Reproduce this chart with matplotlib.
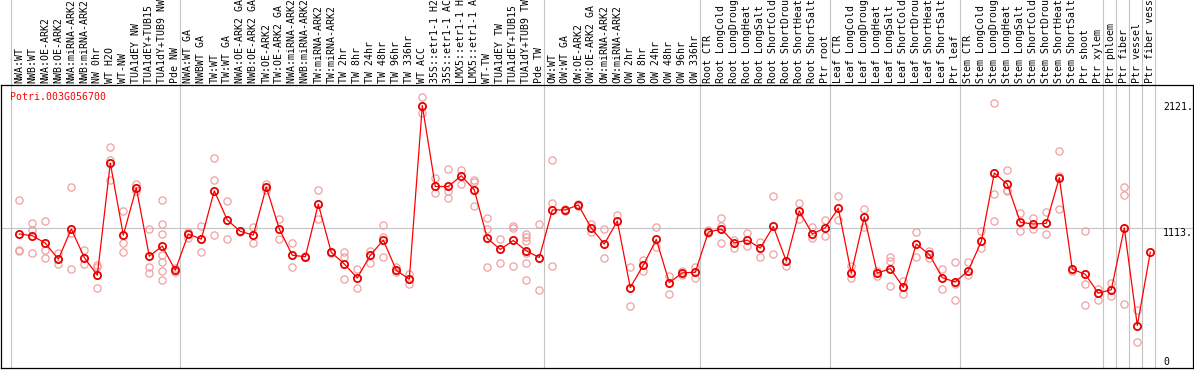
import matplotlib
matplotlib.use("Agg")
import matplotlib.pyplot as plt
import matplotlib.transforms as mtransforms

labels = ["NWA:WT", "NWB:WT", "NWA:OE-ARK2", "NWB:OE-ARK2", "NWA:miRNA-ARK2", "NWB:miRNA-ARK2",
          "NW 0hr", "WT H2O", "WT-NW", "TUA1dEY NW", "TUA1dEY+TUB15 NW", "TUA1dY+TUB9 NW", "Pde NW",
          "NWA:WT GA", "NWBWT GA", "TW:WT", "TW:WT GA", "NWA:OE-ARK2 GA", "NWB:OE-ARK2 GA",
          "TW:OE-ARK2", "TW:OE-ARK2 GA", "NWA:miRNA-ARK2 GA", "NWB:miRNA-ARK2 GA", "TW:miRNA-ARK2",
          "TW:miRNA-ARK2", "TW 2hr", "TW 8hr", "TW 24hr", "TW 48hr", "TW 96hr", "TW 336hr", "WT ACC",
          "35S::etr1-1 H2O", "35S::etr1-1 ACC", "LMX5::etr1-1 H2O", "LMX5::etr1-1 ACC", "WT-TW",
          "TUA1dEY TW", "TUA1dEY+TUB15 TW", "TUA1dY+TUB9 TW", "Pde TW",
          "OW:WT", "OW:WT GA", "OW:OE-ARK2", "OW:OE-ARK2 GA", "OW:miRNA-ARK2", "OW:miRNA-ARK2",
          "OW 2hr", "OW 8hr", "OW 24hr", "OW 48hr", "OW 96hr", "OW 336hr",
          "Root CTR", "Root LongCold", "Root LongDrought", "Root LongHeat", "Root LongSalt",
          "Root ShortCold", "Root ShortDrought", "Root ShortHeat", "Root ShortSalt", "Ptr root",
          "Leaf CTR", "Leaf LongCold", "Leaf LongDrought", "Leaf LongHeat", "Leaf LongSalt",
          "Leaf ShortCold", "Leaf ShortDrought", "Leaf ShortHeat", "Leaf ShortSalt", "Ptr leaf",
          "Stem CTR", "Stem LongCold", "Stem LongDrought", "Stem LongHeat", "Stem LongSalt",
          "Stem ShortCold", "Stem ShortDrought", "Stem ShortHeat", "Stem ShortSalt", "Ptr shoot",
          "Ptr xylem", "Ptr phloem", "Ptr fiber", "Ptr vessel", "Ptr fiber vessel"]

means = [1065, 1051, 992, 863, 1105, 876, 734, 1634, 1056, 1435, 887, 968, 774,
         1065, 1024, 1411, 1177, 1086, 1056, 1441, 1105, 895, 882, 1304, 917, 825, 712,
         895, 1016, 774, 702, 2095, 1446, 1446, 1532, 1419, 1030, 941, 1013, 930, 876,
         1258, 1258, 1298, 1113, 984, 1169, 635, 815, 1021, 675, 753, 758,
         1080, 1105, 994, 1016, 952, 1126, 847, 1250, 1065, 1115,
         1272, 750, 1202, 750, 788, 637, 984, 901, 715, 680,
         772, 1005, 1554, 1465, 1159, 1145, 1151, 1516, 782, 742,
         591, 618, 1113, 331, 919]

replicates = [
    [1339, 935, 930], [1153, 1097, 911], [1169, 935, 876], [911, 823], [1441, 1073, 788],
    [935, 828], [815, 801, 632], [1763, 1661, 1494], [1250, 989, 917], [1468, 1406],
    [1105, 801, 755], [1339, 1143, 1062, 895, 841, 766, 699], [793, 760], [1083, 1030],
    [1129, 917], [1675, 1500, 1056], [1331, 1024], [1090, 1080], [1124, 989], [1468, 1420],
    [1185, 1024], [989, 798], [885, 878], [1419, 1183], [920, 915], [917, 880, 707],
    [788, 635], [930, 836], [1137, 1043, 882], [801, 760], [747, 667], [2167, 2032],
    [1518, 1392], [1589, 1411, 1357], [1575, 1468], [1494, 1480, 1290], [1191, 1105, 804],
    [1024, 831], [1130, 1110, 806], [1065, 1040, 1010, 909, 831, 699], [1143, 613],
    [1661, 1312, 812], [1265, 1250], [1305, 1290], [1143, 1083], [1102, 874], [1218],
    [801, 484], [855, 766], [1124, 962], [728, 581], [766, 740], [801, 715],
    [1095, 1070], [1191, 1130, 989], [1020, 949], [1070, 970], [1000, 884], [1368, 903],
    [809], [1312, 1183], [1118, 1030], [1177, 1051], [1368, 1177], [806, 715],
    [1266, 1124], [770, 725], [882, 850, 645], [688, 581], [1078, 882], [930, 875],
    [782, 626], [844, 660, 538], [839, 739], [1089, 949], [2113, 1385, 1169],
    [1581, 1420, 1406], [1231, 1086], [1196, 1102], [1242, 1062], [1734, 1530, 1266],
    [765], [1089, 661, 492], [626, 532], [675, 564], [1441, 1376, 500], [452, 202], []]

group_starts = [0, 13, 41, 53, 63, 73, 84, 85, 86, 87, 88]
title = "Potri.003G056700"
ref_values = [2121, 1113, 0]
ref_texts = ["2121.", "1113.", "0"]

W, H = 1194, 370
fig = plt.figure(figsize=(W / 100, H / 100), dpi=100)
fig.patch.set_facecolor("white")

# axes box in pixels
px_l, px_r, px_top, px_bot = 1, 1193, 85, 368
ax = fig.add_axes([px_l / W, (H - px_bot) / H, (px_r - px_l) / W, (px_bot - px_top) / H])

x0, dx = 19.3, 13.0
ax.set_xlim((px_l - x0) / dx, (px_r - x0) / dx)
y0, sy = 366.8, 0.1247
ax.set_ylim((y0 - px_bot) / sy, (y0 - px_top) / sy)
ax.set_xticks([])
ax.set_yticks([])
for s in ax.spines.values():
    s.set_color("black")
    s.set_linewidth(0.9)

grey = "#c4c4c4"
ymax_frac = px_bot / (px_bot - px_top)
for g in group_starts:
    ax.axvline(g - 0.64, ymin=0, ymax=ymax_frac, color=grey, lw=0.8, clip_on=False, zorder=1)
ax.axhline(ref_values[1], color=grey, lw=0.8, zorder=1)

mono = "DejaVu Sans Mono"
trans = mtransforms.blended_transform_factory(ax.transData, ax.transAxes)
lab_y = (px_bot - 83) / (px_bot - px_top)
for i, lab in enumerate(labels):
    ax.text(i, lab_y, lab, rotation=90, ha="center", va="bottom", transform=trans,
            family=mono, fontsize=7.1, color="black", clip_on=False)

# replicates
rx, ry = [], []
for i, reps in enumerate(replicates):
    for v in reps:
        rx.append(i)
        ry.append(v)
ax.plot(rx, ry, linestyle="none", marker="o", markersize=5.2, markerfacecolor="none",
        markeredgecolor="#f0a0a0", markeredgewidth=0.9, zorder=2)

xs = list(range(len(means)))
ax.plot(xs, means, color="#ff0000", lw=0.9, zorder=3)
ax.plot(xs, means, linestyle="none", marker="o", markersize=5.2, markerfacecolor="none",
        markeredgecolor="#e80000", markeredgewidth=1.3, zorder=4)

# title
ax.text((10 - x0) / dx, (y0 - 97) / sy, title, ha="left", va="center", family=mono,
        fontsize=7.1, color="#ff0000")

# reference value labels
xr = (1163 - x0) / dx
ax.text(xr, ref_values[0], ref_texts[0], ha="left", va="top", family=mono, fontsize=7.1)
ax.text(xr, ref_values[1], ref_texts[1], ha="left", va="top", family=mono, fontsize=7.1)
ax.text(xr, ref_values[2], ref_texts[2], ha="left", va="bottom", family=mono, fontsize=7.1)

fig.savefig("out.png", dpi=100)
